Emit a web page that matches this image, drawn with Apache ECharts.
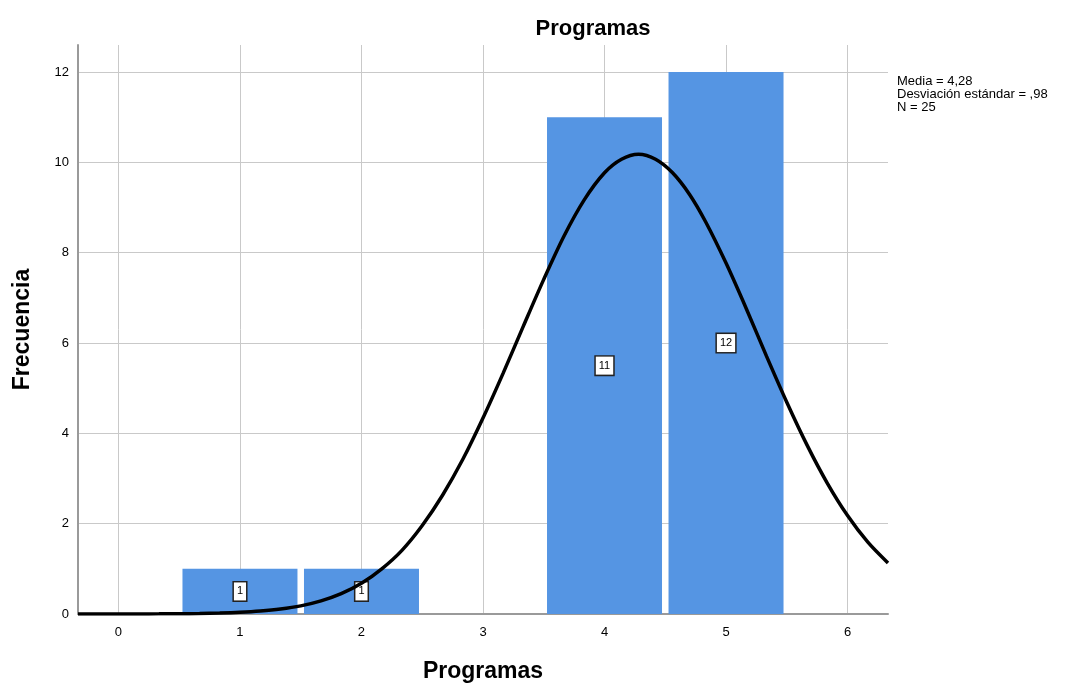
<!DOCTYPE html>
<html>
<head>
<meta charset="utf-8">
<script src="https://cdn.jsdelivr.net/npm/echarts@6/dist/echarts.min.js"></script>
<style>
  html, body { margin: 0; padding: 0; background: #fff; }
  #chart { width: 1078px; height: 683px; }
</style>
</head>
<body>
<div id="chart"></div>
<script>
// Histogram of "Programas" with fitted normal curve
var binCenters = [1, 2, 4, 5];
var frequencies = [1, 1, 11, 12];

// Normal curve points (x, frequency); peak sits at the mean 4.28
var curveX = [-0.333, -0.167, 0, 0.167, 0.333, 0.5, 0.667, 0.833, 1, 1.167, 1.333, 1.5, 1.667, 1.833, 2, 2.167, 2.333, 2.5, 2.667, 2.833, 3, 3.167, 3.333, 3.5, 3.667, 3.833, 4, 4.14, 4.28, 4.42, 4.56, 4.7, 4.833, 5, 5.167, 5.333, 5.5, 5.667, 5.833, 6, 6.167, 6.333];
var curveY = [0.0, 0.0, 0.001, 0.002, 0.003, 0.006, 0.011, 0.021, 0.038, 0.066, 0.11, 0.18, 0.29, 0.45, 0.68, 1.00, 1.41, 1.96, 2.63, 3.42, 4.34, 5.34, 6.38, 7.41, 8.37, 9.17, 9.77, 10.07, 10.18, 10.07, 9.77, 9.29, 8.68, 7.77, 6.76, 5.71, 4.69, 3.74, 2.90, 2.18, 1.59, 1.13];

var xTicks = [0, 1, 2, 3, 4, 5, 6];
var statsLines = ['Media = 4,28', 'Desviación estándar = ,98', 'N = 25'];

var FONT = '"Liberation Sans", Arial, sans-serif';
var gridColor = '#c9c9c9';

var chart = echarts.init(document.getElementById('chart'), null, { renderer: 'canvas' });

var barData = binCenters.map(function (c, i) { return [c, frequencies[i]]; });
var curveData = curveX.map(function (x, i) { return [x, curveY[i]]; });

chart.setOption({
  animation: false,
  backgroundColor: '#ffffff',
  title: {
    text: 'Programas',
    left: 588,
    top: 13,
    textAlign: 'center',
    textStyle: { fontFamily: FONT, fontSize: 22, fontWeight: 'bold', color: '#000' }
  },
  grid: { left: 78, top: 45, right: 190, bottom: 69, containLabel: false, outerBoundsMode: 'none' },
  xAxis: {
    type: 'value',
    min: -0.333,
    max: 6.333,
    name: 'Programas',
    nameLocation: 'middle',
    nameGap: 46,
    nameTextStyle: { fontFamily: FONT, fontSize: 23, fontWeight: 'bold', color: '#000' },
    axisLine: { show: true, onZero: false, lineStyle: { color: '#9a9a9a', width: 2 } },
    axisTick: { show: false, customValues: xTicks },
    axisLabel: { customValues: xTicks, margin: 12, fontFamily: FONT, fontSize: 13, color: '#000' },
    splitLine: { show: true, lineStyle: { color: gridColor, width: 1 } }
  },
  yAxis: {
    type: 'value',
    min: 0,
    max: 12.6,
    interval: 2,
    name: 'Frecuencia',
    nameLocation: 'middle',
    nameGap: 44,
    nameTextStyle: { fontFamily: FONT, fontSize: 23, fontWeight: 'bold', color: '#000' },
    axisLine: { show: true, onZero: false, lineStyle: { color: '#9a9a9a', width: 2 } },
    axisTick: { show: false },
    axisLabel: {
      margin: 9, fontFamily: FONT, fontSize: 13, color: '#000',
      formatter: function (v) { return Math.abs(v - Math.round(v)) < 1e-6 ? String(v) : ''; }
    },
    splitLine: {
      show: true,
      lineStyle: { color: [gridColor, gridColor, gridColor, gridColor, gridColor, gridColor, gridColor, 'rgba(0,0,0,0)'], width: 1 }
    }
  },
  series: [
    {
      type: 'bar',
      data: barData,
      barWidth: 115,
      itemStyle: { color: '#5595e3' },
      label: {
        show: true,
        position: 'inside',
        formatter: function (p) { return String(p.value[1]); },
        fontFamily: FONT,
        fontSize: 11,
        color: '#000',
        backgroundColor: '#ffffff',
        borderColor: '#222',
        borderWidth: 1.5,
        padding: [4, 3, 3, 3]
      },
      z: 2
    },
    {
      type: 'line',
      data: curveData,
      smooth: 0.3,
      showSymbol: false,
      symbol: 'none',
      lineStyle: { color: '#000', width: 3.5 },
      z: 3
    }
  ],
  graphic: [
    {
      type: 'text',
      left: 897,
      top: 75,
      style: {
        text: statsLines.join('\n'),
        fontFamily: FONT,
        fontSize: 13,
        lineHeight: 13,
        fill: '#000'
      }
    }
  ]
});
</script>
</body>
</html>
